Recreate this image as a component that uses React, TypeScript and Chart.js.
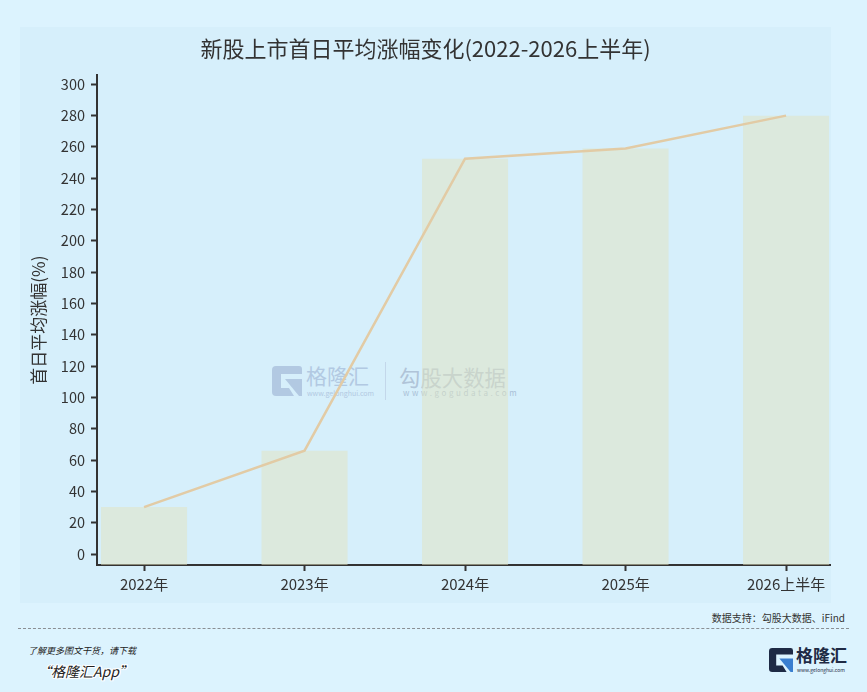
import { useEffect, useRef } from 'react';
import { Chart, registerables } from 'chart.js';

Chart.register(...registerables);

const categories = ['2022年', '2023年', '2024年', '2025年', '2026上半年'];
const barValues = [30, 66, 252.5, 259, 280];
const lineValues = [30, 66, 252.5, 259, 280];
const yTicks = [0, 20, 40, 60, 80, 100, 120, 140, 160, 180, 200, 220, 240, 260, 280, 300];

const Y_MIN = -7;
const Y_MAX = 305.7;

const FONT = '"Noto Sans CJK SC", "Noto Sans", sans-serif';
const INK = '#333333';

function GIcon({ size, navy, blue }: { size: number; navy: string; blue: string }) {
  return (
    <svg width={size} height={size} viewBox="0 0 30 30" style={{ display: 'block' }}>
      <path d="M4,0 H27 Q30,0 30,3 V8 H9 V22 H17 L22,30 H4 Q0,30 0,26 V4 Q0,0 4,0 Z" fill={navy} />
      <path d="M13,13 H30 V30 H27 Z" fill={blue} />
    </svg>
  );
}

export default function App() {
  const chartRef = useRef<HTMLCanvasElement>(null);
  const chartInstance = useRef<Chart | null>(null);

  useEffect(() => {
    if (!chartRef.current) return;
    if (chartInstance.current) chartInstance.current.destroy();

    chartInstance.current = new Chart(chartRef.current, {
      type: 'bar',
      data: {
        datasets: [
          {
            type: 'line',
            data: lineValues.map((v, i) => ({ x: i, y: v })),
            borderColor: '#e2cba5',
            borderWidth: 2.5,
            pointRadius: 0,
            tension: 0,
            order: 0,
          },
          {
            type: 'bar',
            data: barValues.map((v, i) => ({ x: i, y: v })),
            base: Y_MIN,
            backgroundColor: 'rgba(226, 227, 191, 0.5)',
            borderWidth: 0,
            barPercentage: 0.536,
            categoryPercentage: 1,
            order: 1,
          },
        ],
      },
      options: {
        animation: false,
        responsive: true,
        maintainAspectRatio: false,
        layout: { padding: 0 },
        plugins: {
          legend: { display: false },
          tooltip: { enabled: false },
          title: {
            display: true,
            text: '新股上市首日平均涨幅变化(2022-2026上半年)',
            font: { family: FONT, size: 22, weight: 'normal' },
            color: INK,
            padding: { top: 8, bottom: 14 },
          },
        },
        scales: {
          x: {
            type: 'linear',
            min: -0.293,
            max: 4.28,
            offset: false,
            afterBuildTicks: (s: any) => {
              s.ticks = categories.map((_, i) => ({ value: i }));
            },
            afterFit: (s: any) => {
              s.height = 38;
            },
            ticks: {
              callback: (v: any) => categories[v as number] ?? '',
              font: { family: FONT, size: 15 },
              color: INK,
              padding: 4,
              maxRotation: 0,
              autoSkip: false,
            },
            grid: {
              display: true,
              drawOnChartArea: false,
              drawTicks: true,
              tickLength: 6,
              tickWidth: 2,
              tickColor: INK,
              offset: false,
            },
            border: { display: true, color: INK, width: 2 },
          },
          y: {
            type: 'linear',
            min: Y_MIN,
            max: Y_MAX,
            afterBuildTicks: (s: any) => {
              s.ticks = yTicks.map((v) => ({ value: v }));
            },
            afterFit: (s: any) => {
              s.width = 77;
            },
            ticks: {
              font: { family: FONT, size: 14.5 },
              color: INK,
              padding: 6,
            },
            grid: {
              display: true,
              drawOnChartArea: false,
              drawTicks: true,
              tickLength: 6,
              tickWidth: 2,
              tickColor: INK,
            },
            border: { display: true, color: INK, width: 2 },
            title: {
              display: true,
              text: '首日平均涨幅(%)',
              font: { family: FONT, size: 17 },
              color: INK,
              padding: { top: 8, bottom: 0 },
            },
          },
        },
      },
    } as any);

    return () => {
      if (chartInstance.current) {
        chartInstance.current.destroy();
        chartInstance.current = null;
      }
    };
  }, []);

  const wm = '#b2c9e2';

  return (
    <div
      style={{
        position: 'absolute',
        left: 0,
        top: 0,
        width: 867,
        height: 692,
        background: '#dcf3fe',
        fontFamily: FONT,
        overflow: 'hidden',
      }}
    >
      {/* chart panel */}
      <div style={{ position: 'absolute', left: 20, top: 27, width: 811, height: 576, background: '#d6effb' }} />

      {/* watermark, under the canvas */}
      <div style={{ position: 'absolute', left: 272, top: 366 }}>
        <GIcon size={30} navy={wm} blue={wm} />
      </div>
      <div style={{ position: 'absolute', left: 306, top: 360, fontSize: 21, color: wm, lineHeight: '30px' }}>格隆汇</div>
      <div style={{ position: 'absolute', left: 307, top: 389, fontSize: 7, color: wm, lineHeight: '9px' }}>
        www.gelonghui.com
      </div>
      <div style={{ position: 'absolute', left: 385, top: 362, width: 1, height: 38, background: '#c3d7ea' }} />
      <div style={{ position: 'absolute', left: 399, top: 362, fontSize: 21.4, color: '#b0c4d8', lineHeight: '30px' }}>
        勾股大数据
      </div>
      <div
        style={{
          position: 'absolute',
          left: 403,
          top: 388,
          fontSize: 8,
          letterSpacing: 2.6,
          color: '#a9bfd6',
          lineHeight: '10px',
        }}
      >
        www.gogudata.com
      </div>

      {/* chart canvas */}
      <div style={{ position: 'absolute', left: 20, top: 27, width: 811, height: 576 }}>
        <canvas ref={chartRef}></canvas>
      </div>

      {/* footer */}
      <div
        style={{
          position: 'absolute',
          right: 22,
          top: 610,
          fontSize: 10,
          color: INK,
          lineHeight: '16px',
          whiteSpace: 'nowrap',
        }}
      >
        数据支持：勾股大数据、iFind
      </div>
      <div style={{ position: 'absolute', left: 18, top: 628, width: 831, borderTop: '1px dashed #8a8f94' }} />
      <div
        style={{
          position: 'absolute',
          left: 28,
          top: 644,
          fontSize: 9,
          fontStyle: 'italic',
          color: '#222',
          lineHeight: '14px',
          whiteSpace: 'nowrap',
        }}
      >
        了解更多图文干货，请下载
      </div>
      <div
        style={{
          position: 'absolute',
          left: 37,
          top: 661,
          fontSize: 14,
          fontStyle: 'italic',
          color: '#222',
          lineHeight: '20px',
          whiteSpace: 'nowrap',
          textShadow: '1px 0 #fff, -1px 0 #fff, 0 1px #fff, 0 -1px #fff, 1px 1px #fff, -1px -1px #fff, 1px -1px #fff, -1px 1px #fff',
        }}
      >
        “格隆汇App”
      </div>

      {/* logo */}
      <div style={{ position: 'absolute', left: 769, top: 648 }}>
        <GIcon size={24} navy="#1e2a45" blue="#3a7fd0" />
      </div>
      <div
        style={{
          position: 'absolute',
          left: 796,
          top: 643,
          fontSize: 17,
          fontWeight: 'bold',
          color: '#1e2a45',
          lineHeight: '24px',
          whiteSpace: 'nowrap',
        }}
      >
        格隆汇
      </div>
      <div
        style={{
          position: 'absolute',
          left: 797,
          top: 667,
          fontSize: 5,
          color: '#1e2a45',
          lineHeight: '6px',
          whiteSpace: 'nowrap',
        }}
      >
        www.gelonghui.com
      </div>
    </div>
  );
}
